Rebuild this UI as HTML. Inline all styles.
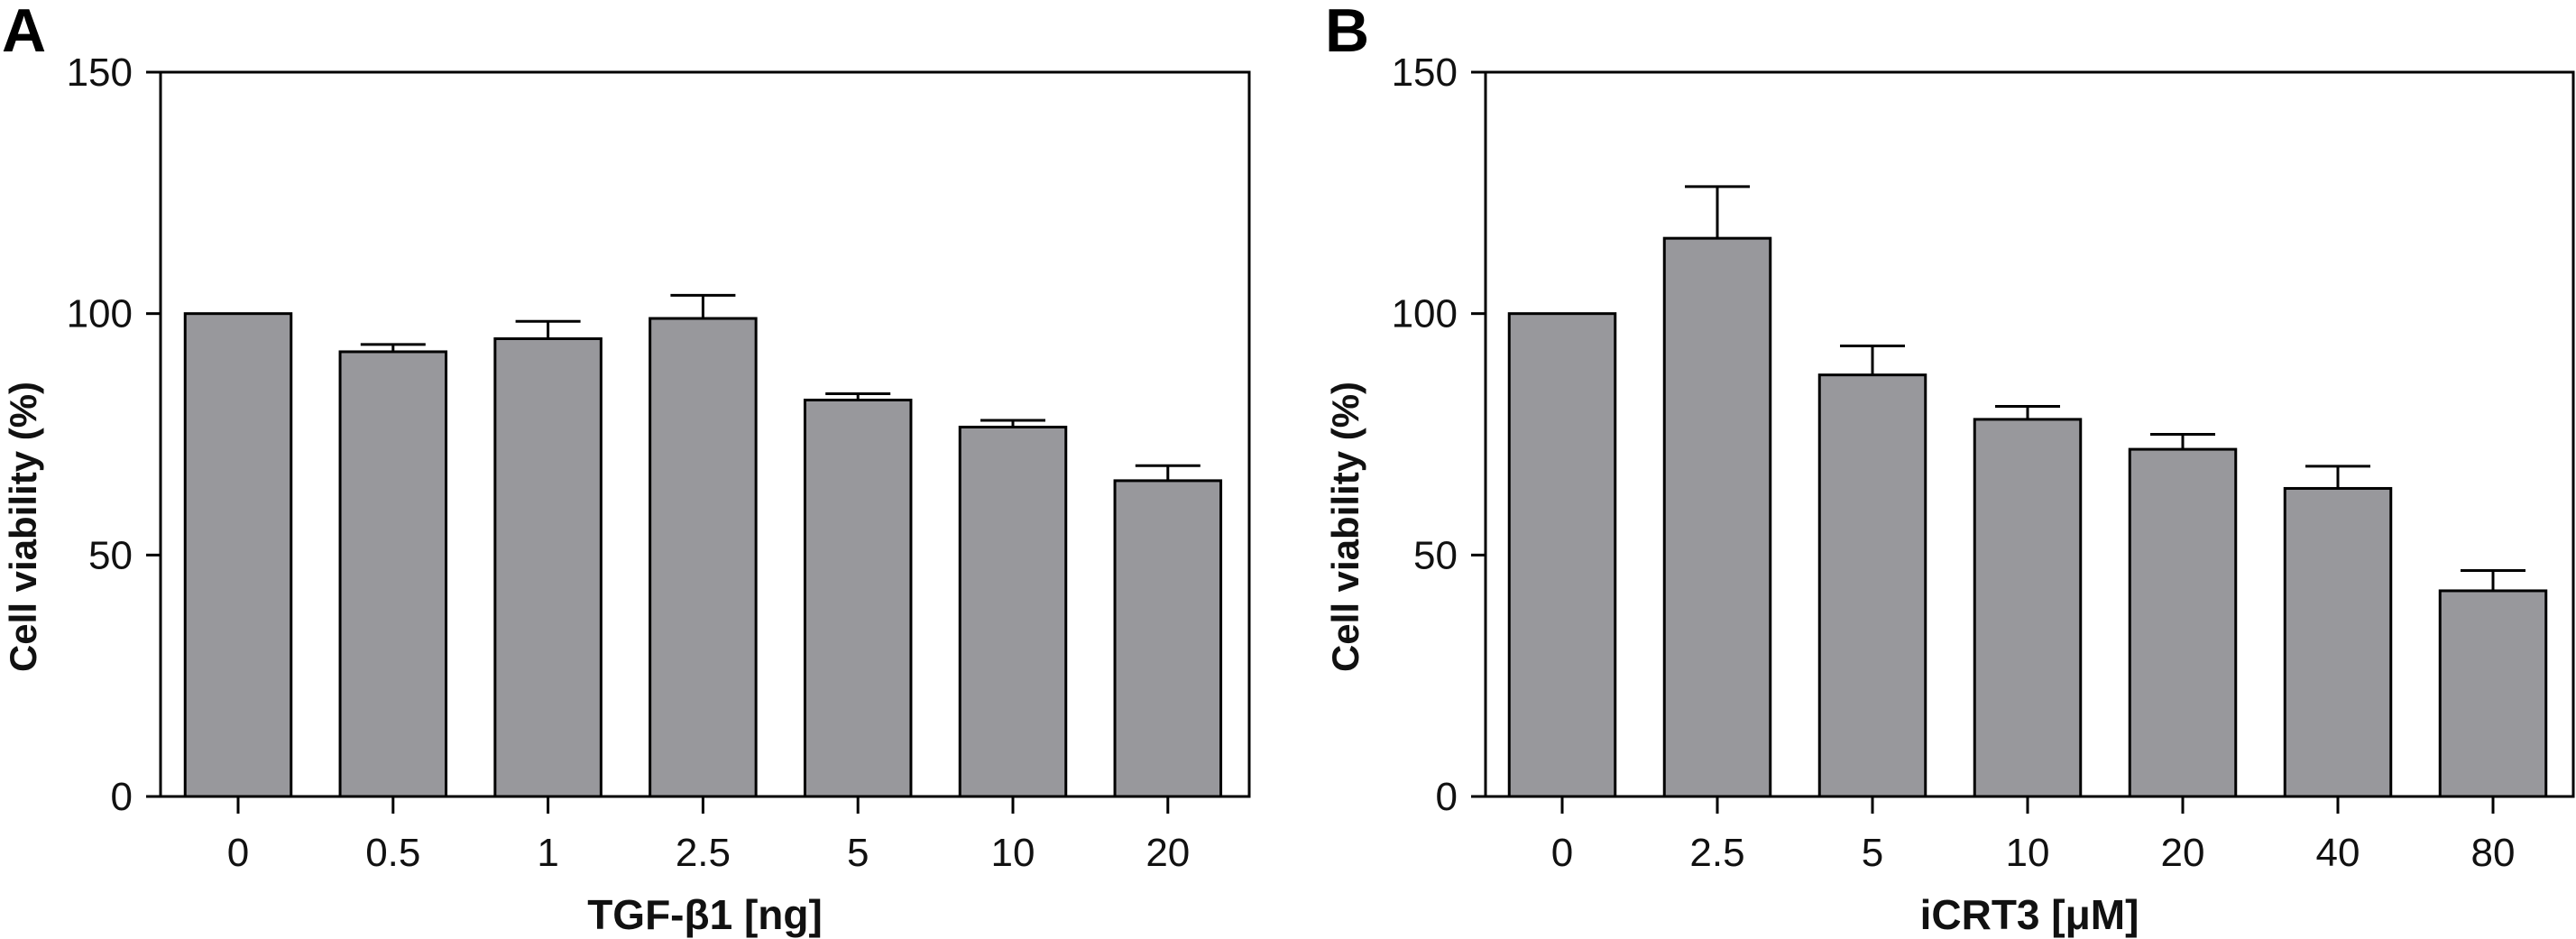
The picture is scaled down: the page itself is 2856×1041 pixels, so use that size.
<!DOCTYPE html>
<html><head><meta charset="utf-8"><style>
html,body{margin:0;padding:0;background:#fff;}
svg{display:block;font-family:"Liberation Sans",sans-serif;}
</style></head><body>
<svg id="chart" width="2856" height="1041" viewBox="0 0 2856 1041"></svg>
<script>
const catsA = ["0","0.5","1","2.5","5","10","20"];
const valsA = [100, 92.1, 94.8, 99.0, 82.1, 76.5, 65.4];
const errA  = [100, 93.6, 98.4, 103.8, 83.4, 77.9, 68.5];
const catsB = ["0","2.5","5","10","20","40","80"];
const valsB = [100, 115.6, 87.3, 78.1, 71.9, 63.8, 42.6];
const errB  = [100, 126.3, 93.3, 80.8, 75.0, 68.4, 46.8];
const yTicks = [0, 50, 100, 150];

const NS = "http://www.w3.org/2000/svg";
const svg = document.getElementById("chart");
function mk(tag, attrs, parent){
  const e = document.createElementNS(NS, tag);
  for (const k in attrs) e.setAttribute(k, attrs[k]);
  (parent||svg).appendChild(e);
  return e;
}
function panel(opts){
  const g = mk("g", {});
  
  
  const L=opts.left, R=opts.right, T=80, B=883;
  const y = v => B - (v/150)*(B-T);
  const x = i => opts.x0 + i*opts.step;
  const bw = 117.5;
  opts.vals.forEach((v,i)=>{
    if (opts.errs[i] > v + 0.01){
      const l = mk("line",{x1:x(i),x2:x(i),y1:y(v),y2:y(opts.errs[i]),stroke:"#000","stroke-width":3},g);
      
      
      const c = mk("line",{x1:x(i)-36,x2:x(i)+36,y1:y(opts.errs[i]),y2:y(opts.errs[i]),stroke:"#000","stroke-width":3},g);
      
      
    }
    const r = mk("rect",{x:x(i)-bw/2,y:y(v),width:bw,height:B-y(v),fill:"#98989c",stroke:"#000","stroke-width":3},g);
    
    
  });
  const f = mk("path",{d:`M${L} ${B} L${L} ${T} L${R} ${T} L${R} ${B} Z`,fill:"none",stroke:"#000","stroke-width":3},g);
  
  
  yTicks.forEach(t=>{
    mk("line",{x1:L-16,x2:L,y1:y(t),y2:y(t),stroke:"#000","stroke-width":3},g);
    const tx = mk("text",{x:L-31,y:y(t)+15,"text-anchor":"end","font-size":44,fill:"#111"},g);
    tx.textContent = t;
    
    
  });
  opts.cats.forEach((c,i)=>{
    mk("line",{x1:x(i),x2:x(i),y1:B,y2:B+19,stroke:"#000","stroke-width":3},g);
    const tx = mk("text",{x:x(i),y:960,"text-anchor":"middle","font-size":44,fill:"#111"},g);
    tx.textContent = c;
    
    
  });
  const xt = mk("text",{x:(L+R)/2,y:1030,"text-anchor":"middle","font-size":46,"font-weight":"bold",fill:"#111"},g);
  xt.textContent = opts.xtitle;
  
  
  const yt = mk("text",{x:0,y:0,"text-anchor":"middle","font-size":42,"font-weight":"bold",fill:"#111",transform:`translate(${opts.ylx},584) rotate(-90)`},g);
  yt.textContent = "Cell viability (%)";
  
  
  const pl = mk("text",{x:opts.lx,y:57,"font-size":68,"font-weight":"bold",fill:"#000"},g);
  pl.textContent = opts.label;
  
  
}
panel({name:"panel-a",left:178,right:1385,x0:264,step:171.8,cats:catsA,vals:valsA,errs:errA,xtitle:"TGF-β1 [ng]",ylx:40,lx:2,label:"A"});
panel({name:"panel-b",left:1647,right:2853,x0:1732,step:172,cats:catsB,vals:valsB,errs:errB,xtitle:"iCRT3 [μM]",ylx:1506,lx:1469,label:"B"});
</script>
</body></html>
